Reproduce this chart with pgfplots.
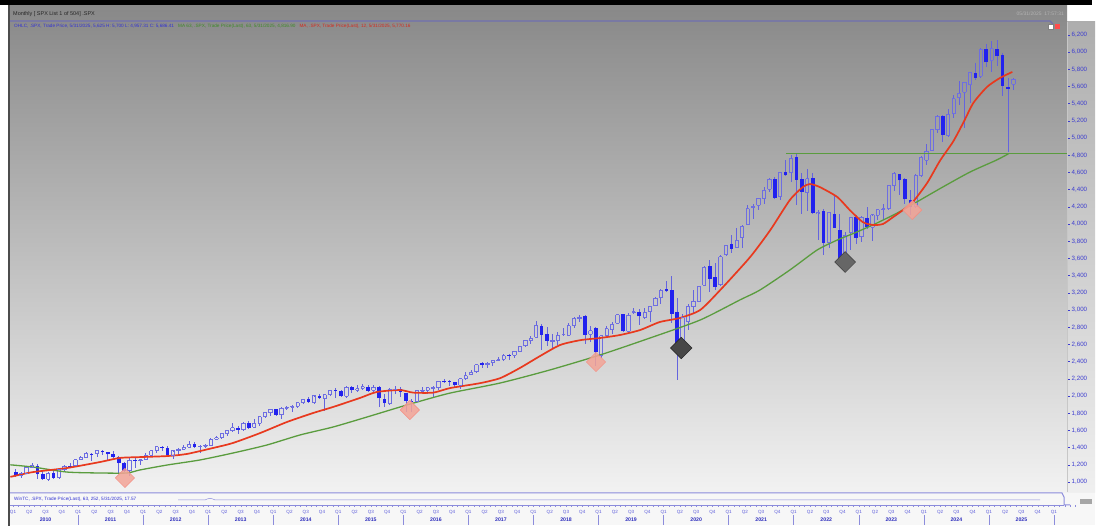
\documentclass[border=0pt]{standalone}
\usepackage{pgfplots}
\pgfplotsset{compat=1.18}
\usepackage{pgfplotstable}
\usepackage{fontspec}
\setmainfont{Liberation Sans}
\definecolor{bearc}{HTML}{2222EE}
\definecolor{bullc}{HTML}{6E6EE2}
\definecolor{wickc}{HTML}{6464DE}
\definecolor{maRed}{HTML}{E8391E}
\definecolor{maGreen}{HTML}{5A9C3E}
\definecolor{tickblue}{HTML}{3C3CD0}
\definecolor{pinkd}{HTML}{F3A497}
\definecolor{bgtop}{HTML}{888888}
\definecolor{bgbot}{HTML}{F2F2F2}
\definecolor{legblue}{HTML}{3232D2}
\definecolor{leggreen}{HTML}{3E8A2A}
\definecolor{legred}{HTML}{D42A1E}
\definecolor{rulec}{HTML}{8C8CDC}

\pgfplotstableread{
yr mo o h l c
2010 1 1116 1150 1071 1074
2010 2 1074 1112 1045 1104
2010 3 1105 1180 1105 1169
2010 4 1172 1220 1170 1187
2010 5 1188 1206 1040 1089
2010 6 1088 1131 1029 1031
2010 7 1032 1120 1011 1102
2010 8 1108 1129 1040 1049
2010 9 1050 1149 1048 1141
2010 10 1143 1196 1132 1183
2010 11 1185 1227 1174 1181
2010 12 1187 1263 1187 1258
2011 1 1258 1303 1258 1286
2011 2 1290 1345 1286 1327
2011 3 1329 1333 1249 1326
2011 4 1329 1364 1295 1364
2011 5 1365 1371 1312 1345
2011 6 1346 1346 1258 1321
2011 7 1322 1357 1282 1292
2011 8 1293 1307 1101 1219
2011 9 1220 1230 1114 1131
2011 10 1131 1292 1075 1253
2011 11 1251 1277 1159 1247
2011 12 1247 1270 1202 1258
2012 1 1259 1334 1259 1312
2012 2 1312 1378 1312 1366
2012 3 1366 1420 1341 1408
2012 4 1408 1422 1358 1398
2012 5 1398 1415 1292 1310
2012 6 1310 1364 1267 1362
2012 7 1362 1392 1326 1379
2012 8 1380 1427 1378 1407
2012 9 1407 1475 1397 1441
2012 10 1441 1471 1404 1412
2012 11 1412 1434 1343 1416
2012 12 1416 1448 1398 1426
2013 1 1426 1510 1426 1498
2013 2 1498 1531 1485 1515
2013 3 1515 1570 1501 1569
2013 4 1569 1598 1537 1598
2013 5 1598 1687 1581 1631
2013 6 1631 1654 1560 1606
2013 7 1609 1698 1605 1686
2013 8 1690 1710 1628 1633
2013 9 1636 1730 1634 1682
2013 10 1682 1772 1647 1757
2013 11 1758 1814 1746 1806
2013 12 1806 1849 1768 1848
2014 1 1846 1851 1770 1783
2014 2 1783 1867 1738 1859
2014 3 1858 1884 1835 1872
2014 4 1873 1897 1815 1884
2014 5 1884 1925 1860 1924
2014 6 1924 1968 1915 1960
2014 7 1960 1992 1930 1931
2014 8 1930 2006 1905 2003
2014 9 2004 2019 1964 1972
2014 10 1971 2018 1821 2018
2014 11 2019 2075 2001 2068
2014 12 2066 2093 1973 2059
2015 1 2059 2072 1988 1995
2015 2 1997 2119 1981 2105
2015 3 2105 2117 2040 2068
2015 4 2068 2126 2049 2086
2015 5 2088 2135 2068 2107
2015 6 2106 2130 2057 2063
2015 7 2067 2133 2044 2104
2015 8 2104 2112 1867 1972
2015 9 1970 2021 1872 1920
2015 10 1919 2094 1893 2079
2015 11 2080 2117 2019 2080
2015 12 2082 2104 1993 2044
2016 1 2038 2038 1812 1940
2016 2 1937 1963 1810 1932
2016 3 1937 2073 1937 2060
2016 4 2057 2111 2034 2065
2016 5 2067 2100 2025 2097
2016 6 2094 2120 1992 2099
2016 7 2099 2178 2075 2174
2016 8 2173 2194 2148 2171
2016 9 2171 2188 2120 2168
2016 10 2165 2169 2098 2126
2016 11 2128 2214 2084 2199
2016 12 2201 2278 2188 2239
2017 1 2251 2301 2245 2279
2017 2 2285 2372 2271 2364
2017 3 2381 2401 2322 2363
2017 4 2362 2398 2329 2384
2017 5 2388 2418 2353 2412
2017 6 2416 2454 2405 2423
2017 7 2431 2484 2408 2470
2017 8 2477 2491 2417 2472
2017 9 2474 2520 2447 2519
2017 10 2522 2582 2520 2575
2017 11 2583 2657 2566 2648
2017 12 2645 2695 2605 2674
2018 1 2684 2873 2683 2824
2018 2 2816 2835 2533 2714
2018 3 2716 2801 2586 2641
2018 4 2634 2718 2554 2648
2018 5 2643 2742 2594 2705
2018 6 2718 2791 2699 2718
2018 7 2705 2849 2699 2816
2018 8 2822 2916 2796 2902
2018 9 2897 2941 2864 2914
2018 10 2926 2940 2604 2712
2018 11 2718 2816 2631 2760
2018 12 2790 2800 2347 2507
2019 1 2477 2708 2444 2704
2019 2 2703 2813 2681 2784
2019 3 2780 2861 2722 2834
2019 4 2848 2950 2848 2946
2019 5 2953 2954 2751 2752
2019 6 2751 2965 2729 2942
2019 7 2972 3028 2952 2980
2019 8 2981 3014 2822 2926
2019 9 2910 3022 2892 2977
2019 10 2983 3050 2856 3038
2019 11 3050 3155 3050 3141
2019 12 3144 3248 3071 3231
2020 1 3244 3338 3214 3226
2020 2 3235 3394 2855 2954
2020 3 2974 3137 2192 2585
2020 4 2499 2955 2447 2912
2020 5 2870 3068 2766 3044
2020 6 3038 3233 2966 3100
2020 7 3106 3280 3102 3271
2020 8 3289 3514 3285 3500
2020 9 3508 3588 3210 3363
2020 10 3385 3550 3234 3270
2020 11 3296 3646 3280 3622
2020 12 3645 3760 3633 3756
2021 1 3764 3870 3663 3714
2021 2 3732 3950 3725 3811
2021 3 3842 3995 3723 3973
2021 4 3992 4218 3992 4181
2021 5 4191 4238 4056 4204
2021 6 4217 4302 4165 4298
2021 7 4300 4430 4234 4395
2021 8 4406 4537 4368 4523
2021 9 4528 4546 4306 4308
2021 10 4317 4608 4279 4605
2021 11 4610 4743 4560 4567
2021 12 4602 4808 4495 4766
2022 1 4778 4819 4223 4516
2022 2 4520 4595 4115 4374
2022 3 4363 4637 4157 4530
2022 4 4540 4593 4124 4132
2022 5 4130 4169 3811 4132
2022 6 4150 4178 3637 3785
2022 7 3782 4141 3721 4130
2022 8 4113 4325 3955 3955
2022 9 3937 4119 3584 3586
2022 10 3609 3906 3492 3872
2022 11 3901 4081 3699 4080
2022 12 4087 4101 3765 3840
2023 1 3853 4095 3794 4077
2023 2 4070 4195 3943 3970
2023 3 3964 4110 3809 4109
2023 4 4102 4170 4049 4169
2023 5 4166 4231 4048 4180
2023 6 4181 4458 4167 4450
2023 7 4450 4607 4385 4589
2023 8 4579 4584 4336 4508
2023 9 4530 4541 4239 4288
2023 10 4284 4393 4104 4194
2023 11 4202 4587 4198 4568
2023 12 4569 4794 4547 4770
2024 1 4745 4932 4682 4846
2024 2 4862 5111 4853 5096
2024 3 5098 5265 5057 5254
2024 4 5258 5264 4954 5036
2024 5 5029 5342 5012 5278
2024 6 5283 5505 5234 5460
2024 7 5471 5669 5391 5522
2024 8 5537 5652 5120 5648
2024 9 5623 5768 5403 5762
2024 10 5758 5879 5675 5705
2024 11 5723 6044 5697 6032
2024 12 6040 6100 5833 5882
2025 1 5904 6129 5773 6041
2025 2 6041 6147 5837 5955
2025 3 5969 5987 5489 5612
2025 4 5597 5696 4835 5569
2025 5 5625 5700 5560 5686
}\candles

\pgfplotstableread{
x y
2009.96 1060
2010.31 1116
2010.83 1163
2011.34 1233
2011.64 1280
2011.95 1290
2012.37 1302
2012.67 1326
2013.07 1395
2013.38 1454
2013.80 1570
2014.21 1698
2014.61 1802
2014.92 1873
2015.33 1977
2015.59 2047
2015.95 2070
2016.15 2040
2016.46 2040
2016.72 2093
2017.18 2150
2017.49 2209
2017.79 2326
2018.10 2465
2018.41 2594
2018.72 2650
2019.02 2675
2019.33 2710
2019.64 2768
2019.94 2861
2020.25 2908
2020.56 3000
2020.87 3233
2021.33 3617
2021.64 3931
2021.94 4280
2022.14 4431
2022.25 4466
2022.40 4431
2022.67 4315
2022.86 4164
2023.06 4024
2023.22 3990
2023.37 4001
2023.53 4083
2023.68 4164
2023.83 4257
2024.05 4478
2024.25 4740
2024.45 4960
2024.62 5200
2024.76 5409
2024.97 5595
2025.17 5700
2025.36 5770
}\maRedTab

\pgfplotstableread{
x y
2009.96 1200
2010.31 1174
2010.83 1116
2011.34 1105
2011.75 1105
2011.95 1140
2012.37 1198
2012.87 1256
2013.38 1337
2013.90 1430
2014.41 1547
2014.92 1640
2015.44 1756
2015.95 1873
2016.21 1930
2016.72 2035
2017.49 2152
2018.25 2303
2019.02 2477
2019.79 2675
2020.56 2884
2021.17 3117
2021.48 3233
2021.94 3466
2022.36 3699
2022.67 3815
2022.97 3908
2023.28 4013
2023.59 4129
2023.89 4257
2024.29 4431
2024.71 4606
2025.12 4746
2025.30 4818
}\maGreenTab

\pgfplotsset{
  errplot/.style={draw=none, mark=none, forget plot},
}

\begin{document}
\begin{tikzpicture}
\begin{scope}[x=1bp,y=1bp]
\path[use as bounding box] (0,0) rectangle (1101,532);
\fill[white] (0,0) rectangle (1101,532);
\shade[top color=bgtop, bottom color=bgbot] (9,39) rectangle (1067,527);
\shade[top color=black!32, bottom color=black!6] (1067,39) rectangle (1095,510);
\fill[black!3] (9,7) rectangle (1095,39);
\fill[black] (0,527) rectangle (1092,532);
\draw[line width=1.6bp, color=black!70] (9,6) -- (9,527);
\node[anchor=west, inner sep=0, font=\fontsize{5.5}{6}\selectfont, text=black!85] at (13,518) {Monthly [ SPX List 1 of 504] .SPX};
\node[anchor=east, inner sep=0, font=\fontsize{5}{6}\selectfont, text=black!30] at (1064,518) {05/31/2025\ \ 17:57:31};
\draw[line width=1.3bp, color=black!20!rulec] (10,511) -- (1050,511) -- (1053,508);
\node[anchor=west, inner sep=0, font=\fontsize{4.7}{5.5}\selectfont] at (14,505.5) {\textcolor{legblue}{OHLC, .SPX, Trade Price, 5/31/2025, 5,625 H: 5,700 L: 4,957.31 C: 5,686.41}\hspace{4bp}\textcolor{leggreen}{MA 63, .SPX, Trade Price(Last), 63, 5/31/2025, 4,816.90}\hspace{4bp}\textcolor{legred}{MA, .SPX, Trade Price(Last), 12, 5/31/2025, 5,770.16}};
\fill[white, draw=black!50, line width=0.3bp] (1048,503) rectangle (1053,508);
\fill[red!70] (1055,503) rectangle (1060,508);
\end{scope}

\begin{axis}[
  at={(10bp,40bp)}, anchor=south west, scale only axis,
  width=1057bp, height=470bp,
  xmin=2009.954, xmax=2026.2, ymin=884, ymax=6351,
  axis x line=none, axis y line*=right,
  y axis line style={draw=black!22, line width=0.6bp},
  ytick={1000,1200,...,6200},
  tick align=outside, major tick length=3bp,
  ytick style={draw=tickblue, line width=0.5bp},
  yticklabel style={font=\fontsize{6.2}{7}\selectfont, text=tickblue, inner sep=1.5bp},
  /pgf/number format/1000 sep={,},
  /pgf/number format/assume math mode=true,
]
% wicks
\addplot[errplot, error bars/.cd, y dir=plus, y explicit, error mark=none,
  error bar style={line width=0.8bp, draw=wickc}]
  table[x expr=\thisrow{yr}+(\thisrow{mo}-0.5)/12, y expr={max(\thisrow{o},\thisrow{c})},
        y error plus expr={\thisrow{h}-max(\thisrow{o},\thisrow{c})}] {\candles};
\addplot[errplot, error bars/.cd, y dir=minus, y explicit, error mark=none,
  error bar style={line width=0.8bp, draw=wickc}]
  table[x expr=\thisrow{yr}+(\thisrow{mo}-0.5)/12, y expr={min(\thisrow{o},\thisrow{c})},
        y error minus expr={min(\thisrow{o},\thisrow{c})-\thisrow{l}}] {\candles};
% hollow (rising) bodies
\addplot[errplot, error bars/.cd, y dir=plus, y explicit, error mark=none,
  error bar style={line width=0.9bp, draw=bullc}]
  table[x expr=\thisrow{yr}+(\thisrow{mo}-0.5)/12-0.0255,
        y expr={\thisrow{c}>=\thisrow{o} ? \thisrow{o} : nan},
        y error plus expr={\thisrow{c}-\thisrow{o}}] {\candles};
\addplot[errplot, error bars/.cd, y dir=plus, y explicit, error mark=none,
  error bar style={line width=0.9bp, draw=bullc}]
  table[x expr=\thisrow{yr}+(\thisrow{mo}-0.5)/12+0.0255,
        y expr={\thisrow{c}>=\thisrow{o} ? \thisrow{o} : nan},
        y error plus expr={\thisrow{c}-\thisrow{o}}] {\candles};
\addplot[only marks, color=bullc, mark=-, mark size=1.7bp, mark options={solid, line width=0.9bp, draw=bullc}]
  table[x expr=\thisrow{yr}+(\thisrow{mo}-0.5)/12,
        y expr={\thisrow{c}>=\thisrow{o} ? \thisrow{o} : nan}] {\candles};
\addplot[only marks, color=bullc, mark=-, mark size=1.7bp, mark options={solid, line width=0.9bp, draw=bullc}]
  table[x expr=\thisrow{yr}+(\thisrow{mo}-0.5)/12,
        y expr={\thisrow{c}>=\thisrow{o} ? \thisrow{c} : nan}] {\candles};
% filled (falling) bodies
\addplot[errplot, error bars/.cd, y dir=plus, y explicit, error mark=none,
  error bar style={line width=3.6bp, draw=bearc}]
  table[x expr=\thisrow{yr}+(\thisrow{mo}-0.5)/12,
        y expr={\thisrow{c}<\thisrow{o} ? \thisrow{c} : nan},
        y error plus expr={\thisrow{o}-\thisrow{c}}] {\candles};
% averages and level
\addplot[maGreen, line width=1.3bp, smooth, tension=0.4] table[x=x, y=y] {\maGreenTab};
\addplot[maGreen, line width=1.3bp] coordinates {(2021.88,4818) (2026.2,4818)};
\addplot[maRed, line width=1.7bp, smooth, tension=0.4] table[x=x, y=y] {\maRedTab};
% signal diamonds
\addplot[only marks, mark=square*, mark size=6.8bp,
  mark options={rotate=45, fill=pinkd, draw=pinkd!85!red, fill opacity=0.85, line width=0.4bp}]
  coordinates {(2011.72,1047) (2016.10,1838) (2018.96,2396) (2023.82,4164)};
\addplot[only marks, mark=square*, mark size=7.6bp,
  mark options={rotate=45, fill=black!72, draw=black!85, line width=0.5bp}]
  coordinates {(2020.27,2559)};
\addplot[only marks, mark=square*, mark size=7.4bp,
  mark options={rotate=45, fill=black!60, draw=black!75, line width=0.5bp}]
  coordinates {(2022.79,3559)};
\end{axis}

\begin{scope}[x=1bp,y=1bp]
\draw[line width=1bp, color=rulec] (10,39) -- (1062,39) -- (1064,35) -- (1064,27) -- (1070,27);
\node[anchor=west, inner sep=0, font=\fontsize{4.7}{5.5}\selectfont, text=legblue] at (14,33) {WinTC, .SPX, Trade Price(Last), 63, 252, 5/31/2025, 17.57};
\draw[line width=0.5bp, color=rulec] (178,32) -- (205,32) .. controls (208,34) and (212,34) .. (215,32) -- (1040,32);
\draw[line width=0.8bp, color=rulec] (10,27) -- (1064,27);
\foreach \i in {0,...,196} {
  \pgfmathsetmacro\xx{13+65.06*\i/12}
  \draw[line width=0.4bp, color=rulec] (\xx,27) -- (\xx,25);
}
\foreach \i in {0,...,64} {
  \pgfmathsetmacro\xx{13+65.06*\i/4}
  \pgfmathtruncatemacro\q{mod(\i,4)+1}
  \node[inner sep=0, font=\fontsize{4.6}{5}\selectfont, text=legblue!80] at (\xx,20) {Q\q};
}
\foreach \yy in {2010,...,2025} {
  \pgfmathsetmacro\xx{13+65.06*(\yy-2010+0.5)}
  \node[inner sep=0, font=\fontsize{5.2}{6}\selectfont\bfseries, text=legblue!90!black] at (\xx,12) {\yy};
}
\foreach \yy in {2011,...,2026} {
  \pgfmathsetmacro\xs{13+65.06*(\yy-2010)}
  \draw[line width=0.5bp, color=rulec] (\xs,17) -- (\xs,7);
}
\fill[black!35] (1080,28) rectangle (1092,33);
\end{scope}
\end{tikzpicture}
\end{document}
